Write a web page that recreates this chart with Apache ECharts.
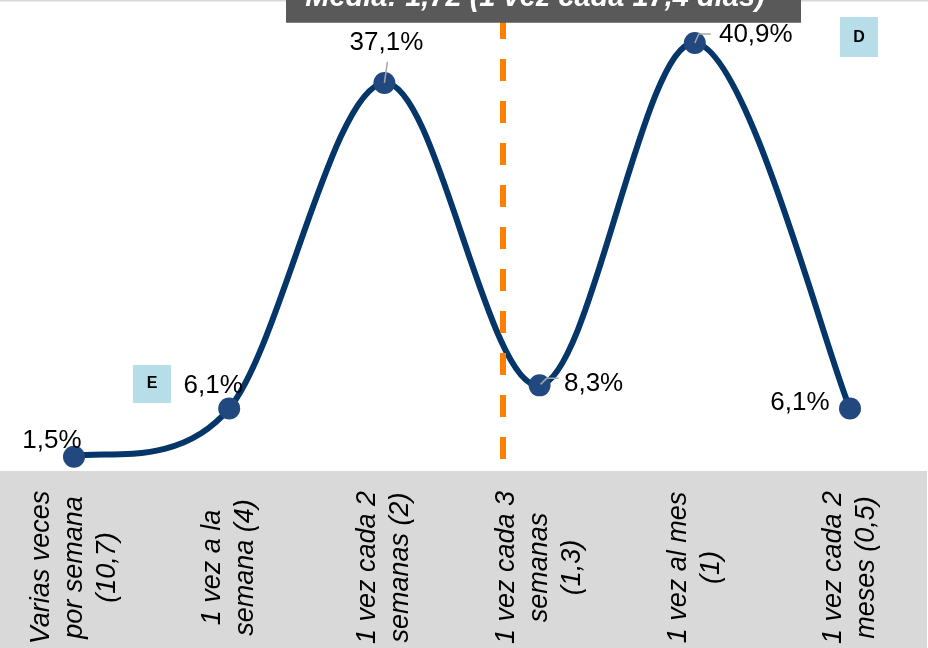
<!DOCTYPE html>
<html>
<head>
<meta charset="utf-8">
<script src="https://cdn.jsdelivr.net/npm/echarts@6/dist/echarts.min.js"></script>
<style>
  html, body { margin: 0; padding: 0; background: #ffffff; }
  #chart { width: 928px; height: 648px; }
</style>
</head>
<body>
<div id="chart"></div>
<script>
// Frecuencia de compra: categorías y porcentaje de respuestas
const categorias = [
  'Varias veces\npor semana\n(10,7)',
  '1 vez a la\nsemana (4)',
  '1 vez cada 2\nsemanas (2)',
  '1 vez cada 3\nsemanas\n(1,3)',
  '1 vez al mes\n(1)',
  '1 vez cada 2\nmeses (0,5)'
];
const porcentajes = [1.5, 6.1, 37.1, 8.3, 40.9, 6.1];
const etiquetas = ['1,5%', '6,1%', '37,1%', '8,3%', '40,9%', '6,1%'];

// Media de la distribución, situada sobre el eje de categorías
const tituloMedia = 'Media: 1,72 (1 vez cada 17,4 días)';
const posicionMedia = [2.764];

// Etiquetas con línea guía
const conGuia = [2, 3, 4];

// Desplazamiento del centro de cada etiqueta respecto a su punto (px)
const desplazamientos = [
  [-22, -16], [-16, -23], [2, -40], [54, -2], [61, -8], [-50, -6]
];
// Trazos de las líneas guía respecto al punto (px)
const trazosGuia = {
  2: [[0, 0], [3, -21]],
  3: [[1, -1], [7, -7], [19, -7]],
  4: [[0, 0], [4, -9], [16, -9]]
};

const fuente = '"Liberation Sans", Arial, sans-serif';
const COLOR_LINEA = '#043669';
const chart = echarts.init(document.getElementById('chart'), null, { renderer: 'canvas' });

// Curva suavizada tipo Catmull-Rom entre puntos consecutivos
function tramoSuave(params, api) {
  const i = api.value(0);
  const n = porcentajes.length;
  if (i >= n - 1) return null;
  const pt = k => api.coord([k, porcentajes[k]]);
  const p1 = pt(i), p2 = pt(i + 1);
  const p0 = i > 0 ? pt(i - 1) : p1;
  const p3 = i + 2 < n ? pt(i + 2) : p2;
  const f = 1 / 6;
  return {
    type: 'bezierCurve',
    shape: {
      x1: p1[0], y1: p1[1],
      cpx1: p1[0] + (p2[0] - p0[0]) * f, cpy1: p1[1] + (p2[1] - p0[1]) * f,
      cpx2: p2[0] - (p3[0] - p1[0]) * f, cpy2: p2[1] - (p3[1] - p1[1]) * f,
      x2: p2[0], y2: p2[1]
    },
    style: { stroke: COLOR_LINEA, lineWidth: 6, fill: null, lineCap: 'round' }
  };
}

chart.setOption({
  animation: false,
  backgroundColor: '#ffffff',
  grid: {
    left: -3.6, right: 0.4, top: 0, bottom: 175.5,
    containLabel: false, outerBoundsMode: 'none'
  },
  xAxis: [
    {
      type: 'category',
      data: categorias,
      boundaryGap: true,
      axisLine: { show: false },
      axisTick: { show: false },
      axisLabel: {
        rotate: 90,
        align: 'center',
        verticalAlign: 'middle',
        margin: 95,
        interval: 0,
        color: '#000000',
        fontFamily: fuente,
        fontStyle: 'italic',
        fontSize: 27,
        lineHeight: 33
      }
    },
    {
      type: 'value',
      min: -0.5, max: 5.5,
      show: false
    }
  ],
  yAxis: {
    type: 'value',
    min: 0, max: 45,
    show: false,
    splitLine: { show: false }
  },
  graphic: [
    { type: 'rect', z: -5, shape: { x: 0, y: 471, width: 927, height: 177 }, style: { fill: '#D9D9D9' } },
    { type: 'rect', z: 10, shape: { x: 0, y: 0, width: 928, height: 1.5 }, style: { fill: '#D9D9D9' } },
    { type: 'rect', z: 20, shape: { x: 286, y: -10, width: 515, height: 32.7 }, style: { fill: '#595959' } },
    {
      type: 'text', z: 21, x: 535, y: -2,
      style: {
        text: tituloMedia, fill: '#ffffff',
        font: 'italic bold 29px ' + fuente,
        align: 'center', verticalAlign: 'middle'
      }
    },
    { type: 'rect', z: 20, shape: { x: 133, y: 365, width: 38, height: 38 }, style: { fill: '#B7DEE8' } },
    {
      type: 'text', z: 21, x: 152, y: 384,
      style: { text: 'E', fill: '#000000', font: 'bold 16px ' + fuente, align: 'center', verticalAlign: 'middle' }
    },
    { type: 'rect', z: 20, shape: { x: 840, y: 17, width: 38, height: 40 }, style: { fill: '#B7DEE8' } },
    {
      type: 'text', z: 21, x: 859, y: 38,
      style: { text: 'D', fill: '#000000', font: 'bold 16px ' + fuente, align: 'center', verticalAlign: 'middle' }
    }
  ],
  series: [
    {
      // Línea vertical discontinua de la media
      type: 'line',
      xAxisIndex: 1,
      data: [],
      z: 1,
      markLine: {
        silent: true,
        symbol: 'none',
        label: { show: false },
        lineStyle: {
          color: '#FF7F00', width: 6, type: [22, 20], dashOffset: 28.5, opacity: 1
        },
        data: posicionMedia.map(v => ({ xAxis: v }))
      }
    },
    {
      // Curva de la distribución
      type: 'custom',
      z: 3,
      silent: true,
      clip: false,
      data: porcentajes.map((v, i) => [i, v]),
      renderItem: tramoSuave
    },
    {
      // Puntos y etiquetas de valor
      type: 'scatter',
      data: porcentajes,
      z: 4,
      symbol: 'circle',
      symbolSize: 22,
      itemStyle: { color: '#22497F', borderWidth: 0, opacity: 1 },
      label: {
        show: true,
        color: '#000000',
        fontFamily: fuente,
        fontSize: 26,
        formatter: p => etiquetas[p.dataIndex]
      },
      labelLayout: function (params) {
        const r = params.rect;
        const d = desplazamientos[params.dataIndex];
        return {
          x: r.x + r.width / 2 + d[0],
          y: r.y + r.height / 2 + d[1],
          align: 'center',
          verticalAlign: 'middle',
          hideOverlap: false
        };
      },
      emphasis: { disabled: true }
    },
    {
      // Líneas guía de las etiquetas
      type: 'custom',
      z: 5,
      silent: true,
      data: conGuia.map(i => [i, porcentajes[i]]),
      renderItem: function (params, api) {
        const idx = api.value(0);
        const p = api.coord([idx, api.value(1)]);
        const pts = trazosGuia[idx].map(o => [p[0] + o[0], p[1] + o[1]]);
        return {
          type: 'polyline',
          shape: { points: pts },
          style: { stroke: '#A6A6A6', lineWidth: 1.5, fill: null }
        };
      }
    }
  ]
});
</script>
</body>
</html>
